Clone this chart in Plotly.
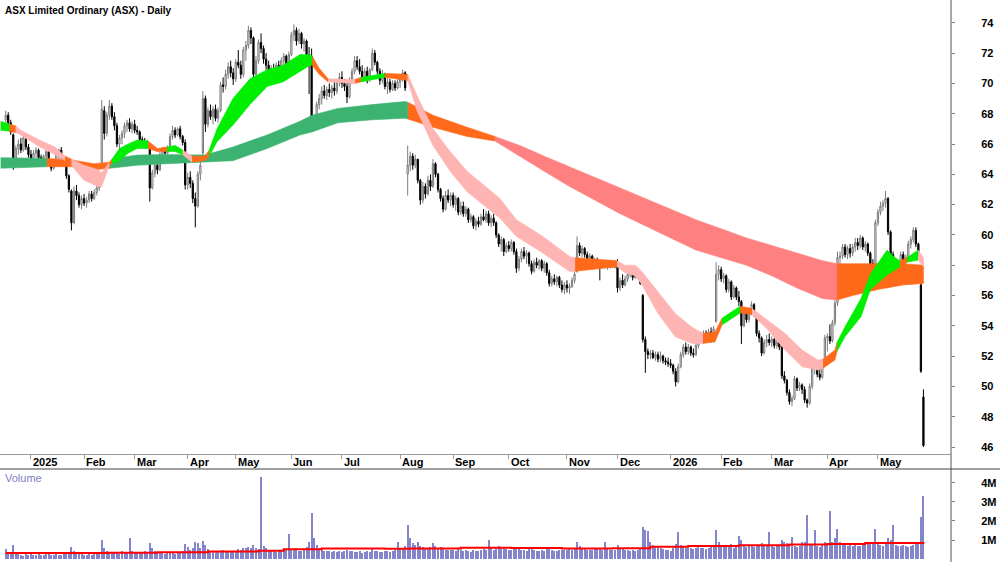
import plotly.graph_objects as go

# ---------------- daily OHLC (trading days, Dec-2024 .. May-2026) ----------------
OPEN = [
    # Dec 2024
    67.6,67.9,67.4,66.6,64.8,65.7,66.0,65.6,66.3,65.8,
    # Jan 2025
    65.3,65.0,65.4,65.6,65.1,64.8,65.2,65.5,64.7,64.4,64.9,65.4,65.6,65.1,64.7,63.9,62.9,60.8,62.9,62.6,62.0,
    # Feb
    62.4,62.1,62.3,62.7,62.4,62.8,63.1,64.7,68.2,66.7,67.9,68.5,67.8,67.2,66.0,66.4,66.7,67.2,67.4,67.0,
    # Mar
    67.3,66.9,66.8,66.3,66.1,65.9,65.8,63.1,64.1,64.6,64.3,65.3,65.6,65.4,65.7,66.5,66.9,66.6,67.0,66.5,66.1,
    # Apr
    63.3,63.8,63.4,62.4,61.9,64.0,65.4,69.0,67.3,68.2,67.8,68.3,67.7,68.2,69.9,69.8,70.6,71.1,70.7,
    # May
    70.3,71.4,71.2,70.6,72.2,72.5,73.5,73.0,70.6,71.5,72.7,72.3,71.6,71.2,70.7,71.0,70.6,71.2,70.9,71.5,71.8,71.3,
    # Jun
    71.9,73.2,73.5,72.8,73.3,72.6,72.8,71.9,71.8,67.3,67.7,68.6,69.0,69.5,69.2,69.6,69.4,69.7,69.5,70.1,
    # Jul
    70.4,70.0,69.8,69.1,70.2,70.8,71.5,71.1,70.8,70.4,70.8,70.3,70.9,72.0,71.4,70.8,70.2,70.6,69.8,70.1,69.6,70.0,69.7,
    # Aug
    70.1,70.3,70.7,64.0,64.6,65.2,64.6,65.0,63.6,62.3,63.2,62.7,63.6,63.2,64.7,64.0,63.0,62.4,61.7,62.6,62.3,
    # Sep
    62.6,62.0,62.4,61.5,61.9,61.4,61.7,61.0,61.2,60.6,60.9,60.7,61.2,61.0,61.4,60.8,61.1,60.8,60.0,59.4,59.7,58.9,
    # Oct
    59.3,59.1,59.5,58.9,57.8,58.4,58.9,58.6,58.8,58.1,57.6,58.2,58.0,58.3,57.8,58.1,57.5,56.8,57.1,56.9,57.2,56.7,56.4,
    # Nov
    56.7,56.5,56.6,57.0,57.6,59.3,58.8,59.1,58.7,58.3,58.6,58.1,58.3,58.0,57.9,58.1,57.9,58.1,58.0,58.1,
    # Dec
    58.0,56.5,57.0,56.7,57.1,57.4,57.6,57.2,57.6,57.3,56.0,53.1,52.3,52.1,52.2,51.9,52.1,51.8,52.0,51.7,51.6,
    # Jan 2026
    51.5,51.4,51.0,50.3,51.3,52.1,52.6,52.3,52.6,52.2,52.1,52.7,53.3,53.2,53.5,53.3,53.6,53.1,54.3,57.4,
    # Feb
    57.7,57.1,57.3,56.4,56.9,55.9,56.5,55.9,55.6,54.0,54.8,54.4,54.9,55.4,54.8,53.5,53.2,52.2,52.9,53.1,
    # Mar
    52.9,53.1,52.7,52.9,52.6,50.7,50.4,49.6,49.0,49.2,50.5,49.9,50.1,49.8,49.1,48.9,50.0,51.2,51.4,50.8,50.6,51.6,
    # Apr
    53.2,53.3,53.0,54.2,55.5,58.5,58.6,59.2,58.7,59.1,58.8,59.2,59.5,59.3,59.8,59.2,59.4,58.8,58.1,57.4,
    # May
    60.8,61.5,61.9,62.1,62.4,60.2,58.7,58.2,57.5,58.0,58.7,58.3,58.5,59.4,59.7,60.3,59.4,56.7,49.3,
]
HIGH = [
    68.2,68.1,67.6,66.7,65.9,66.3,66.4,66.7,66.5,66.0,
    65.6,65.6,65.8,65.7,65.3,65.3,65.7,65.6,64.9,65.0,65.6,65.7,65.8,65.2,64.9,64.0,63.0,63.2,63.3,62.8,62.6,
    62.7,62.5,62.9,62.9,63.0,63.3,63.6,68.9,68.5,68.1,68.9,68.7,68.1,67.4,66.6,66.9,67.4,67.6,67.7,67.5,
    67.6,67.2,66.9,66.5,66.4,66.3,65.9,64.3,64.9,64.9,65.5,65.8,65.8,65.9,66.7,67.2,67.1,67.1,67.2,66.6,66.3,
    64.1,64.2,63.6,62.8,64.2,64.8,69.5,69.2,68.4,68.6,68.5,68.6,68.4,70.1,70.4,70.9,71.4,71.5,71.0,
    71.6,72.2,71.5,72.4,72.8,73.8,73.7,73.1,71.8,72.9,73.3,72.5,72.0,71.5,71.2,71.3,71.4,71.5,71.7,72.0,71.9,72.1,
    73.4,73.9,73.7,73.6,73.4,73.0,72.9,72.4,72.3,67.9,68.8,69.3,69.8,69.9,69.8,70.0,69.9,70.1,70.3,70.7,
    70.8,70.3,70.2,70.4,71.0,71.8,71.8,71.6,71.2,71.0,71.1,71.0,72.3,72.2,71.5,71.0,70.9,70.7,70.4,70.3,70.2,70.2,70.3,
    70.5,70.9,70.8,65.9,65.5,65.4,65.3,65.0,63.7,63.5,63.4,63.9,64.0,65.0,64.8,64.1,63.1,62.6,62.9,63.0,62.8,
    62.8,62.6,62.5,62.2,62.2,61.9,61.8,61.4,61.3,61.1,61.2,61.4,61.7,61.6,61.6,61.3,61.4,60.9,60.1,59.9,59.8,59.5,
    59.6,59.7,59.6,59.1,58.6,59.1,59.2,59.0,58.9,58.3,58.4,58.5,58.4,58.4,58.3,58.2,57.7,57.3,57.4,57.3,57.3,57.0,56.9,
    57.0,56.8,57.2,57.6,59.9,59.5,59.3,59.2,58.9,58.8,58.7,58.5,58.5,58.2,58.3,58.3,58.2,58.3,58.2,58.3,
    58.4,57.2,57.4,57.3,57.6,57.8,57.8,57.8,57.8,57.6,56.1,53.3,52.5,52.4,52.4,52.3,52.3,52.3,52.1,51.9,51.9,
    51.8,51.5,51.2,51.5,52.3,52.8,52.9,52.8,52.7,52.5,52.9,53.5,53.6,53.7,53.7,53.8,53.9,54.0,58.2,58.0,
    57.9,57.5,57.4,57.1,57.0,56.7,56.6,56.3,55.7,55.0,55.0,55.0,55.6,55.5,54.9,53.7,53.3,53.1,53.4,53.5,
    53.3,53.2,53.1,53.0,52.7,51.0,50.5,49.8,49.4,50.7,50.6,50.3,50.2,50.0,49.2,50.2,51.4,51.6,51.5,51.2,51.8,53.4,
    53.5,54.1,54.4,55.7,58.9,58.9,59.4,59.4,59.3,59.4,59.4,59.8,59.8,60.0,59.9,59.6,59.5,58.9,58.4,61.0,
    61.7,62.2,62.3,62.9,62.5,60.3,58.9,58.4,58.2,58.9,58.9,58.7,59.6,59.9,60.5,60.5,59.5,57.0,49.8,
]
LOW = [
    67.3,67.2,66.6,64.3,64.6,65.3,65.4,65.5,65.6,65.1,
    64.8,64.8,65.1,64.9,64.6,64.7,65.0,64.6,64.2,64.3,64.8,65.0,65.0,64.5,63.7,62.8,60.3,60.7,62.3,61.8,61.7,
    61.9,61.8,62.1,62.2,62.3,62.6,62.9,64.5,66.3,66.5,67.6,67.6,66.9,65.8,65.6,66.0,66.4,66.8,66.8,66.7,
    66.7,66.6,66.1,65.8,65.7,65.7,62.2,63.0,63.8,64.0,64.2,65.1,65.2,65.3,65.6,66.3,66.4,66.5,66.3,65.9,63.0,
    63.0,63.1,62.1,60.5,61.8,63.6,65.2,66.8,67.1,67.6,67.3,67.5,67.4,68.1,69.4,69.6,70.3,70.4,69.9,
    70.1,71.0,70.3,70.4,71.5,72.3,72.6,70.3,70.4,71.3,72.0,71.3,70.9,70.4,70.5,70.4,70.5,70.7,70.8,71.2,71.0,71.1,
    71.8,72.8,72.5,72.6,72.3,72.1,71.6,69.3,66.9,67.0,67.5,68.3,68.6,69.0,68.9,69.1,69.0,69.2,69.3,69.8,
    69.7,69.5,68.7,69.0,70.0,70.6,70.9,70.6,70.1,70.2,70.0,70.1,70.8,71.2,70.6,69.9,70.0,69.6,69.3,69.4,69.5,69.5,69.6,
    69.7,70.1,69.5,62.6,64.2,64.3,64.4,63.4,62.0,62.1,62.4,62.6,62.9,63.1,63.8,62.8,62.2,61.5,61.6,62.1,61.9,
    61.8,61.6,61.3,61.3,61.2,61.2,60.8,60.8,60.4,60.3,60.5,60.6,60.9,60.8,60.6,60.5,60.6,59.8,59.2,58.9,58.6,58.8,
    58.9,58.9,58.7,57.5,57.6,58.2,58.4,58.1,57.9,57.4,57.5,57.8,57.7,57.6,57.5,57.3,56.6,56.6,56.7,56.6,56.5,56.2,56.1,
    56.2,56.1,56.5,56.8,57.5,58.6,58.5,58.5,58.1,58.1,57.9,57.9,57.8,57.0,57.8,57.8,57.7,57.8,57.8,57.8,
    56.2,56.3,56.5,56.6,56.9,57.2,57.0,57.1,57.1,56.7,52.9,50.9,51.8,51.8,51.8,51.7,51.6,51.6,51.5,51.4,51.3,
    51.2,50.8,50.0,50.2,51.2,51.9,52.1,52.1,52.0,51.9,52.0,52.5,52.9,53.0,53.1,53.2,52.9,52.9,54.2,57.0,
    56.9,56.8,56.2,56.2,55.7,55.8,55.7,55.3,52.8,53.9,54.2,54.2,54.7,54.6,53.3,52.9,52.0,52.1,52.6,52.7,
    52.6,52.5,52.5,52.4,50.5,50.2,49.4,48.8,48.7,49.1,49.7,49.7,49.5,48.9,48.6,48.8,49.8,50.8,50.6,50.4,50.5,51.5,
    52.3,52.8,52.9,54.0,55.3,57.9,58.4,58.5,58.4,58.5,58.6,58.9,59.0,59.1,59.0,58.9,58.6,57.9,57.2,57.3,
    60.6,61.3,61.6,61.8,60.0,58.5,57.9,57.3,57.3,57.9,58.0,58.0,58.4,59.1,59.5,59.2,58.7,50.9,46.0,
]
CLOSE = [
    67.9,67.4,66.8,64.7,65.7,66.0,65.6,66.4,65.8,65.3,
    65.0,65.4,65.6,65.1,64.8,65.2,65.5,64.7,64.4,64.9,65.4,65.6,65.1,64.7,63.9,63.0,60.8,62.9,62.6,62.0,62.4,
    62.1,62.3,62.7,62.4,62.8,63.1,63.5,68.3,66.7,67.9,68.5,67.8,67.2,66.0,66.4,66.7,67.2,67.4,67.0,67.3,
    66.9,66.8,66.3,66.1,65.9,66.0,63.1,64.1,64.6,64.3,65.3,65.6,65.4,65.7,66.5,66.9,66.6,67.0,66.5,66.1,63.3,
    63.8,63.4,62.4,61.9,64.0,64.6,69.0,67.3,68.2,67.8,68.3,67.7,68.2,69.9,69.8,70.6,71.1,70.7,70.3,
    71.4,71.2,70.6,72.2,72.5,73.5,73.0,70.6,71.5,72.7,72.3,71.6,71.2,70.7,71.0,70.6,71.2,70.9,71.5,71.8,71.3,71.9,
    73.2,73.5,72.8,73.3,72.6,72.8,71.9,71.7,67.3,67.7,68.6,69.0,69.5,69.2,69.6,69.4,69.7,69.5,70.1,70.4,
    70.0,69.8,69.1,70.2,70.8,71.5,71.1,70.8,70.4,70.8,70.3,70.9,72.0,71.4,70.8,70.2,70.6,69.8,70.1,69.6,70.0,69.7,70.1,
    70.3,70.7,69.7,64.6,65.2,64.6,65.0,63.6,62.3,63.2,62.7,63.6,63.2,64.7,64.0,63.0,62.4,61.7,62.6,62.3,62.6,
    62.0,62.4,61.5,61.9,61.4,61.7,61.0,61.2,60.6,60.9,60.7,61.2,61.0,61.4,60.8,61.1,60.8,60.0,59.4,59.7,58.9,59.3,
    59.1,59.5,58.9,57.8,58.4,58.9,58.6,58.8,58.1,57.6,58.2,58.0,58.3,57.8,58.1,57.5,56.8,57.1,56.9,57.2,56.7,56.4,56.7,
    56.5,56.6,57.0,57.4,59.3,58.8,59.1,58.7,58.3,58.6,58.1,58.3,58.0,57.9,58.1,57.9,58.1,58.0,58.1,58.0,
    56.5,57.0,56.7,57.1,57.4,57.6,57.2,57.6,57.3,56.8,53.1,52.3,52.1,52.2,51.9,52.1,51.8,52.0,51.7,51.6,51.5,
    51.4,51.0,50.3,51.3,52.1,52.6,52.3,52.6,52.2,52.1,52.7,53.3,53.2,53.5,53.3,53.6,53.1,53.8,57.4,57.7,
    57.1,57.3,56.4,56.9,55.9,56.5,55.9,55.6,54.0,54.8,54.4,54.9,55.4,54.8,53.5,53.2,52.2,52.9,53.1,52.9,
    53.1,52.7,52.9,52.6,50.7,50.4,49.6,49.0,49.2,50.5,49.9,50.1,49.8,49.1,48.9,50.0,51.2,51.4,50.8,50.6,51.6,53.2,
    53.3,53.0,54.2,55.5,58.5,58.6,59.2,58.7,59.1,58.8,59.2,59.5,59.3,59.8,59.2,59.4,58.8,58.1,57.4,60.8,
    61.5,61.9,62.1,62.4,60.2,58.7,58.2,57.5,58.0,58.7,58.3,58.5,59.4,59.7,60.3,59.4,58.9,51.0,46.1,
]
# daily volume, thousands of shares
VOLUME_K = [
    520,380,300,760,310,260,240,180,280,230,
    250,210,190,280,240,220,300,260,200,240,310,230,210,250,330,290,620,450,330,280,260,
    240,220,260,210,300,280,350,980,560,420,380,340,300,330,290,400,360,320,1080,420,
    380,340,300,360,420,380,820,560,420,360,330,300,280,310,350,330,290,310,360,420,780,
    620,480,560,880,820,560,960,720,520,440,400,380,360,420,480,400,380,360,420,
    450,520,480,600,560,640,580,720,560,520,4300,700,560,480,420,400,380,440,420,400,460,1300,
    520,480,560,440,420,500,620,900,2400,1100,720,560,480,440,420,400,380,420,360,400,
    380,420,460,400,440,380,360,400,340,380,420,360,520,440,400,380,360,420,400,380,440,480,900,
    520,600,700,1800,1100,820,760,900,700,640,600,580,640,820,700,560,620,520,480,500,460,
    480,420,520,460,440,500,420,380,460,440,400,480,520,460,1000,560,480,620,700,560,600,520,
    500,460,540,600,520,480,460,440,520,560,480,440,420,460,400,520,600,480,440,420,460,500,480,
    460,520,480,560,900,700,560,520,480,500,460,520,560,600,480,900,520,480,460,500,
    720,560,520,480,460,440,480,420,460,520,1700,1500,1450,900,760,680,620,580,540,500,460,
    420,560,800,1400,760,620,580,560,600,520,560,640,600,560,520,580,620,760,1500,900,
    760,640,700,620,780,600,640,1200,1000,760,640,700,680,620,760,700,820,660,720,1400,
    700,640,660,720,1000,900,840,780,1150,700,640,680,900,880,2300,760,720,1500,680,640,760,900,
    820,2500,900,1100,1600,880,760,820,700,760,680,740,700,660,720,760,820,900,860,1600,
    900,760,700,820,1100,1000,1800,760,700,660,720,680,640,700,760,820,900,2200,3300,
]

# month starts (trading-day index) and labels
MONTH_POS = [10, 31, 51, 72, 91, 113, 133, 156, 177, 199, 222, 242, 263, 283, 303, 325, 345]
MONTH_LBL = ["2025", "Feb", "Mar", "Apr", "May", "Jun", "Jul", "Aug", "Sep", "Oct",
             "Nov", "Dec", "2026", "Feb", "Mar", "Apr", "May"]
PRICE_TICKS = [46, 48, 50, 52, 54, 56, 58, 60, 62, 64, 66, 68, 70, 72, 74]
VOL_TICKS_K = [1000, 2000, 3000, 4000]
VOL_TICK_TXT = ["1M", "2M", "3M", "4M"]

# short-term MA ribbon: position, upper, lower, state
S_X = [-2, 1.5, 4, 6, 13.5, 19.5, 23.5, 26, 31, 36.5, 38, 41, 42, 45, 48.5, 52, 56.3, 60, 63.8, 67,
       70, 73.7, 78.8, 80.5, 83.6, 89.9, 96.6, 103.4, 109.7, 116.4, 120.4, 121.2, 124, 127.5, 138.2,
       140.5, 150, 159, 162.7, 169, 175.8, 182.5, 189, 195.5, 202, 212.5, 223.2, 225.2, 241.8, 245,
       249, 251.7, 258, 264.8, 271.5, 275.8, 280.6, 283.3, 290.5, 295.2, 301.5, 308.3, 315, 321.3,
       323.3, 328, 328.8, 332, 338.3, 342, 348.6, 351, 353.7, 356.5, 360.9, 363]
S_HI = [67.5, 67.3, 67.2, 66.9, 66.25, 65.8, 65.2, 65.0, 64.6, 64.3, 64.1, 64.8, 65.0, 65.7, 66.0,
        66.26, 66.2, 65.7, 65.8, 65.9, 65.6, 65.2, 65.2, 65.6, 67.0, 69.0, 70.3, 70.9, 71.2, 71.9,
        71.9, 71.8, 71.0, 70.3, 70.25, 70.4, 70.66, 70.6, 69.2, 67.0, 65.5, 64.2, 63.3, 62.4, 61.0,
        59.9, 58.56, 58.5, 58.3, 58.0, 58.0, 57.57, 56.25, 54.82, 53.9, 53.5, 53.6, 54.5, 55.3, 55.15,
        54.38, 53.5, 52.4, 51.74, 51.8, 52.4, 52.9, 53.94, 55.8, 57.4, 59.0, 58.6, 58.3, 58.5, 59.0, 58.5]
S_LO = [66.9, 66.85, 66.75, 66.6, 65.8, 65.3, 64.9, 64.6, 63.6, 63.2, 63.2, 64.6, 64.7, 64.9, 65.4,
        65.7, 65.7, 65.5, 65.5, 65.5, 65.3, 64.8, 64.9, 65.2, 66.15, 67.25, 68.6, 69.8, 70.1, 70.8,
        71.2, 71.2, 70.6, 70.1, 70.0, 70.1, 70.4, 70.2, 68.2, 65.9, 64.2, 62.85, 62.0, 61.1, 59.9,
        58.8, 57.57, 57.6, 57.9, 57.5, 57.3, 56.7, 54.82, 53.28, 52.84, 52.84, 52.95, 54.05, 54.85,
        54.75, 53.72, 52.4, 51.3, 51.08, 51.2, 51.74, 52.3, 53.3, 54.6, 56.4, 57.35, 57.6, 57.9, 58.2,
        58.34, 57.9]
S_COL = ["G", "O", "P", "P", "P", "P", "O", "P", "P", "P", "P", "O", "G", "G", "G", "G", "O", "O",
         "G", "G", "P", "O", "O", "G", "G", "G", "G", "G", "G", "G", "G", "O", "O", "P", "O", "G",
         "O", "P", "P", "P", "P", "P", "P", "P", "P", "P", "P", "O", "P", "P", "P", "P", "P", "P",
         "P", "O", "O", "G", "O", "P", "P", "P", "P", "P", "O", "O", "G", "G", "G", "G", "G", "G",
         "O", "G", "P", "P"]

# long-term MA ribbon
L_X = [-2, 16.3, 26, 35, 41.3, 45, 52, 63.8, 78.8, 89.9, 103.4, 116.4, 121.2, 131.4, 145, 157.9,
       159.1, 169, 182.5, 193.5, 203.4, 213, 223, 233, 243, 253, 263, 273, 283, 293, 303, 313, 323,
       328.8, 335, 345, 355, 363]
L_HI = [65.1, 65.05, 64.95, 64.7, 64.8, 65.1, 65.27, 65.3, 65.27, 65.8, 66.6, 67.5, 67.9, 68.35,
        68.6, 68.8, 68.75, 67.9, 67.1, 66.5, 65.9, 65.2, 64.5, 63.8, 63.1, 62.4, 61.7, 61.0, 60.4,
        59.8, 59.3, 58.8, 58.3, 58.1, 58.1, 58.1, 58.1, 58.0]
L_LO = [64.4, 64.5, 64.5, 64.3, 64.4, 64.5, 64.6, 64.7, 64.83, 64.9, 65.7, 66.6, 66.8, 67.4, 67.6,
        67.7, 67.65, 67.1, 66.5, 66.2, 65.2, 64.2, 63.2, 62.3, 61.4, 60.6, 59.8, 59.0, 58.5, 58.0,
        57.3, 56.5, 55.8, 55.7, 56.0, 56.4, 56.7, 56.8]
L_COL = ["LG", "LO", "LO", "LO", "LG", "LG", "LG", "LG", "LG", "LG", "LG", "LG", "LG", "LG", "LG",
         "LG", "LO", "LO", "LO", "LR", "LR", "LR", "LR", "LR", "LR", "LR", "LR", "LR", "LR", "LR",
         "LR", "LR", "LR", "LO", "LO", "LO", "LO", "LO"]

# volume moving average (thousands)
VMA_X = [0, 40, 60, 80, 100, 110, 125, 150, 160, 180, 200, 220, 240, 255, 270, 290, 310, 325, 340, 363]
VMA_K = [320, 330, 360, 400, 440, 520, 560, 540, 560, 600, 580, 560, 570, 640, 680, 730, 760, 790, 840, 880]

N = len(CLOSE)
assert len(OPEN) == N and len(HIGH) == N and len(LOW) == N and len(VOLUME_K) == N, (len(OPEN), len(HIGH), len(LOW), N, len(VOLUME_K))
X = list(range(N))

COLORS = {"G": "#00ee00", "O": "#ff6a1a", "P": "#ffb4b4",
          "LG": "#3cb371", "LO": "#ff6a1a", "LR": "#ff8080"}

fig = go.Figure()


def add_ribbon(xs, hi, lo, cols):
    n = len(xs)
    i = 0
    while i < n - 1:
        j = i
        while j + 1 < n - 1 and cols[j + 1] == cols[i]:
            j += 1
        ids = list(range(i, j + 2))
        px = [xs[k] for k in ids] + [xs[k] for k in reversed(ids)]
        py = [hi[k] for k in ids] + [lo[k] for k in reversed(ids)]
        c = COLORS[cols[i]]
        fig.add_trace(go.Scatter(x=px, y=py, mode="lines", fill="toself", fillcolor=c,
                                 line=dict(color=c, width=0.6), hoverinfo="skip",
                                 showlegend=False, xaxis="x", yaxis="y"))
        i = j + 1


add_ribbon(L_X, L_HI, L_LO, L_COL)
add_ribbon(S_X, S_HI, S_LO, S_COL)

fig.add_trace(go.Candlestick(
    x=X, open=OPEN, high=HIGH, low=LOW, close=CLOSE,
    increasing=dict(line=dict(color="#7a7a7a", width=1), fillcolor="white"),
    decreasing=dict(line=dict(color="black", width=1), fillcolor="black"),
    whiskerwidth=0, showlegend=False, xaxis="x", yaxis="y"))

fig.add_trace(go.Bar(x=X, y=VOLUME_K, width=0.4,
                     marker=dict(color="#8585cc", line=dict(width=0)),
                     showlegend=False, xaxis="x2", yaxis="y2"))
fig.add_trace(go.Scatter(x=VMA_X, y=VMA_K, mode="lines",
                         line=dict(color="#ff0000", width=2, shape="hv"),
                         showlegend=False, xaxis="x2", yaxis="y2"))

XR = [-2.25, 373.9]
H = 562.0
tickfont = dict(family="Liberation Sans", size=11, color="black", weight="bold")

fig.update_layout(
    width=1000, height=562,
    margin=dict(l=0, r=49, t=0, b=0),
    paper_bgcolor="white", plot_bgcolor="white",
    showlegend=False, bargap=0,
    xaxis=dict(domain=[0, 1], range=XR, anchor="y", showgrid=False, zeroline=False,
               showline=True, linecolor="#9a9a9a", linewidth=1,
               ticks="outside", ticklen=4, tickcolor="#9a9a9a", tickvals=MONTH_POS,
               showticklabels=False, rangeslider=dict(visible=False)),
    xaxis2=dict(domain=[0, 1], range=XR, anchor="y2", showgrid=False, zeroline=False,
                showticklabels=False, ticks=""),
    yaxis=dict(domain=[(H - 454) / H, 1], range=[45.54, 75.505], side="right", anchor="x",
               tickvals=PRICE_TICKS, ticks="outside", ticklen=3, tickcolor="#808080",
               showgrid=False, zeroline=False, showline=False,
               tickfont=tickfont, ticklabelstandoff=24),
    yaxis2=dict(domain=[0, (H - 469) / H], range=[-152, 4717], side="right", anchor="x2",
                tickvals=VOL_TICKS_K, ticktext=VOL_TICK_TXT, ticks="outside", ticklen=3,
                tickcolor="#808080", showgrid=False, zeroline=False, showline=False,
                tickfont=tickfont, ticklabelstandoff=24),
)

annotations = []
for pos, lbl in zip(MONTH_POS, MONTH_LBL):
    annotations.append(dict(x=pos, y=(H - 462) / H, xref="x", yref="paper", text=lbl,
                            showarrow=False, xanchor="left", yanchor="middle",
                            font=dict(family="Liberation Sans", size=11, color="black", weight="bold")))
annotations.append(dict(x=3 / 951, y=1 - 3 / H, xref="paper", yref="paper",
                        text="ASX Limited Ordinary (ASX) - Daily", showarrow=False,
                        xanchor="left", yanchor="top",
                        font=dict(family="Liberation Sans", size=10, color="black", weight="bold")))
annotations.append(dict(x=3 / 951, y=(H - 478) / H, xref="paper", yref="paper",
                        text="Volume", showarrow=False, xanchor="left", yanchor="middle",
                        font=dict(family="Liberation Sans", size=11, color="#8080c8")))
fig.update_layout(annotations=annotations)

fig.update_layout(shapes=[
    dict(type="line", xref="paper", yref="paper", x0=1, x1=1, y0=0, y1=1,
         line=dict(color="#555555", width=1)),
    dict(type="line", xref="paper", yref="paper", x0=0, x1=1000 / 951, y0=(H - 469) / H,
         y1=(H - 469) / H, line=dict(color="#404040", width=1)),
])

fig.write_html("out.html")
